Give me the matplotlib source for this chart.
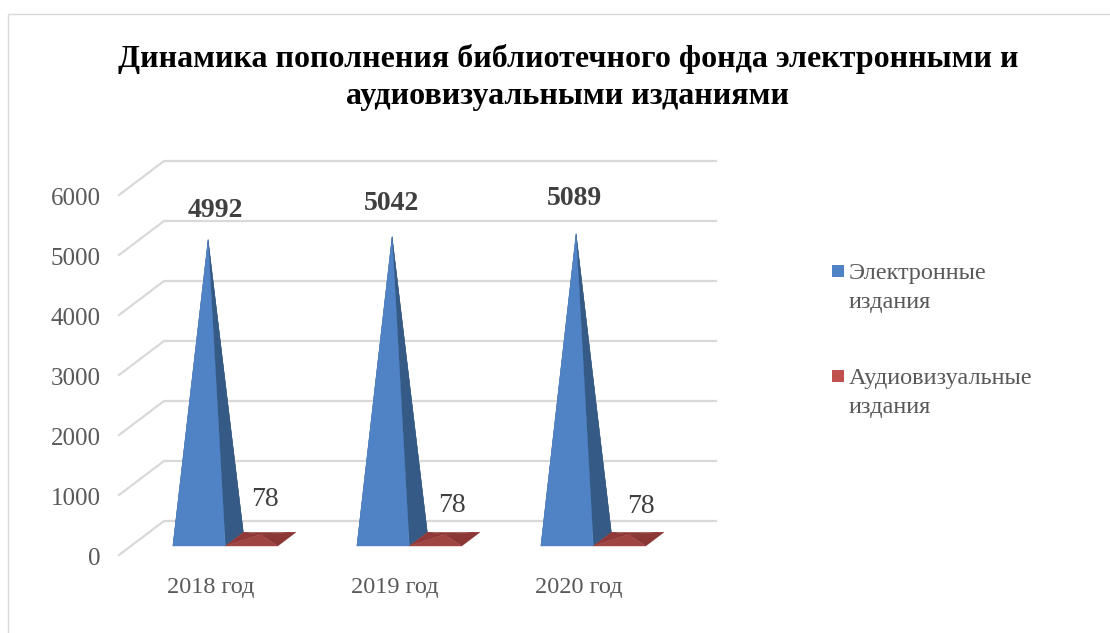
import matplotlib
matplotlib.use("Agg")
import matplotlib.pyplot as plt
from matplotlib.patches import Polygon, Rectangle
from matplotlib.lines import Line2D
from matplotlib.transforms import ScaledTranslation

plt.rcParams['font.family'] = ['Liberation Serif', 'DejaVu Serif']

TITLE = "Динамика пополнения библиотечного фонда электронными и\nаудиовизуальными изданиями"
categories = ["2018 год", "2019 год", "2020 год"]
electronic = [4992, 5042, 5089]
audiovisual = [78, 78, 78]
y_ticks = [0, 1000, 2000, 3000, 4000, 5000, 6000]
legend_labels = ["Электронные\nиздания", "Аудиовизуальные\nиздания"]

W, H = 1110, 633
fig = plt.figure(figsize=(W / 100, H / 100), dpi=100, facecolor="white")

# front plane of the oblique box, in pixels
AX_L, AX_R, AX_T, AX_B = 119, 671, 195, 555
ax = fig.add_axes([AX_L / W, 1 - AX_B / H, (AX_R - AX_L) / W, (AX_B - AX_T) / H])
ax.set_xlim(-0.5, 2.5)
ax.set_ylim(0, 6000)
ax.patch.set_alpha(0)
for s in ax.spines.values():
    s.set_visible(False)

PX_X = 3 / (AX_R - AX_L)
PX_Y = 6000 / (AX_B - AX_T)
DEPTH_X = 45 * PX_X
DEPTH_Y = 34 * PX_Y


def proj(x, d, v):
    return (x + DEPTH_X * d, v + DEPTH_Y * d)


GRID = "#d9d9d9"
for v in y_ticks:
    ax.add_line(Line2D(*zip(proj(-0.5, 0, v), proj(-0.5, 1, v), proj(2.5, 1, v)),
                       color=GRID, lw=1.6, clip_on=False, zorder=1))

D0, D1 = 0.265, 0.665
BAR_W = 0.285


def pyramid(x0, val, faces):
    dm = (D0 + D1) / 2
    apex = proj(x0 + BAR_W / 2, dm, val)
    fl, fr = proj(x0, D0, 0), proj(x0 + BAR_W, D0, 0)
    bl, br = proj(x0, D1, 0), proj(x0 + BAR_W, D1, 0)
    order = [((bl, br), faces["back"]), ((fl, bl), faces["left"]),
             ((br, fr), faces["right"]), ((fl, fr), faces["front"])]
    for (a, b), c in order:
        ax.add_patch(Polygon([a, b, apex], closed=True, fc=c, ec=c, lw=0.3,
                             clip_on=False, zorder=3))
    return apex


BLUE = dict(back="#345a85", left="#345a85", right="#345a85", front="#5083c6")
RED = dict(back="#8a3735", left="#8f3a38", right="#8a3735", front="#a04442")

e_off = [(7, 29), (-1, 33), (-2, 35)]
a_off = [(4, 35), (7, 29), (12, 28)]
for i, (e, a) in enumerate(zip(electronic, audiovisual)):
    left = i - 0.272
    tip_e = pyramid(left, e, BLUE)
    tip_a = pyramid(left + BAR_W, a, RED)
    ax.annotate(str(e), tip_e, xytext=(e_off[i][0] * .72, e_off[i][1] * .72),
                textcoords="offset points", ha="center", va="center",
                fontsize=20, fontweight="bold", color="#404040", zorder=5)
    ax.annotate(str(a), tip_a, xytext=(a_off[i][0] * .72, a_off[i][1] * .72),
                textcoords="offset points", ha="center", va="center",
                fontsize=20, color="#404040", zorder=5)

ax.set_xticks(range(len(categories)), categories)
ax.set_yticks(y_ticks, [str(v) for v in y_ticks])
ax.tick_params(axis="both", length=0, labelcolor="#595959")
ax.tick_params(axis="y", labelsize=18, pad=13)
ax.tick_params(axis="x", labelsize=17.5, pad=15.5)
shift = ScaledTranslation(0, -1.5 / 100, fig.dpi_scale_trans)
for lab in ax.get_yticklabels():
    lab.set_transform(lab.get_transform() + shift)

fig.text(568 / W, 1 - 77.5 / H, TITLE, ha="center", va="center", fontsize=23,
         fontweight="bold", color="black", linespacing=1.36)

# legend
leg_y = [271, 376]
leg_c = ["#5083c6", "#c0504d"]
for y, c, lab in zip(leg_y, leg_c, legend_labels):
    fig.add_artist(Rectangle((832 / W, 1 - (y + 6) / H), 12 / W, 12 / H, fc=c, ec="none",
                             transform=fig.transFigure))
    fig.text(849 / W, 1 - (y - 8) / H, lab, ha="left", va="top", fontsize=17.5,
             color="#595959", linespacing=1.5)

# image frame
fig.add_artist(Line2D([7.5 / W, 7.5 / W, 1], [0, 1 - 13.5 / H, 1 - 13.5 / H], color="#d9d9d9",
                      lw=1.0, transform=fig.transFigure))

fig.savefig("out.png", dpi=100)
